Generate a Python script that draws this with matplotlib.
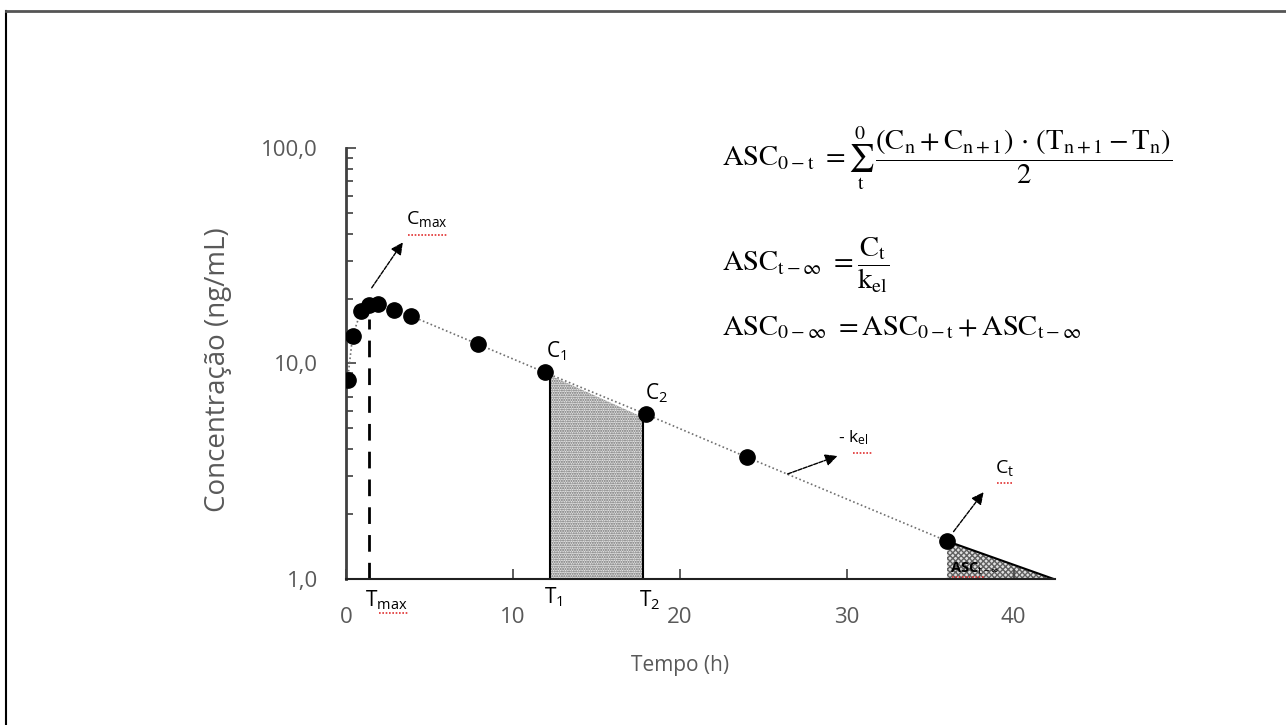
import matplotlib
matplotlib.use("Agg")
import matplotlib.pyplot as plt
import numpy as np

plt.rcParams['font.family'] = ['Open Sans', 'DejaVu Sans']
plt.rcParams['mathtext.fontset'] = 'custom'
plt.rcParams['mathtext.rm'] = 'Open Sans'
plt.rcParams['mathtext.it'] = 'Open Sans'
plt.rcParams['mathtext.sf'] = 'Open Sans'
plt.rcParams['hatch.linewidth'] = 1.0

# dados (tempo em h, concentração em ng/mL)
tempo = [0.1, 0.4, 0.9, 1.4, 1.9, 2.9, 3.9, 7.9, 11.9, 18.0, 24.0, 36.0]
conc = [8.4, 13.4, 17.5, 18.7, 18.9, 17.7, 16.6, 12.3, 9.1, 5.8, 3.68, 1.5]

t_max = 1.4
c_max = 18.9
t1, t2 = 12.2, 17.8
c1, c2 = 9.1, 5.8
t_ult, c_ult = 36.0, 1.5
t_fim = 42.4

x_ticks = [0, 10, 20, 30, 40]
y_ticks = [1, 10, 100]
y_labels = ['1,0', '10,0', '100,0']

fig = plt.figure(figsize=(12.86, 7.25), dpi=100)
ax = fig.add_axes([0.269, 0.2014, 0.551, 0.5945])

# moldura (só esquerda e topo aparecem)
fig.add_artist(plt.Line2D([0.005, 0.005], [0.0, 0.985], color='black', lw=1.5))
fig.add_artist(plt.Line2D([0.005, 1.0], [0.985, 0.985], color='#555555', lw=2))

ax.set_yscale('log')
ax.set_xlim(0, 42.45)
ax.set_ylim(1, 100)

# area entre T1 e T2
tt = np.linspace(t1, t2, 50)
k = (np.log10(c2) - np.log10(c1)) / (t2 - t1)
top = 10 ** (np.log10(c1) + k * (tt - t1)) * 0.97
ax.fill_between(tt, 1, top, facecolor='#e6e6e6', edgecolor='#6a6a6a', hatch='.......', lw=0)
ax.plot([t1, t1], [1, c1 * 0.93], color='black', lw=1.5)
ax.plot([t2, t2], [1, c2 * 0.93], color='black', lw=1.5)

# area t -> infinito
tri_x = [t_ult, t_ult, t_fim]
tri_y = [c_ult, 1, 1]
ax.fill(tri_x, tri_y, facecolor='#e0e0e0', edgecolor='#606060', hatch='xxxxxx', lw=0)
ax.plot([t_ult, t_fim, t_ult], [c_ult, 1, 1], color='black', lw=1.5)

# curva
ax.plot(tempo, conc, linestyle=(0, (1, 1.5)), color='#707070', lw=1.2, zorder=3)
ax.plot(tempo, conc, 'o', color='black', ms=11, zorder=4)

# Tmax
ax.plot([t_max, t_max], [1, c_max * 0.85], color='black', lw=2, dashes=(6, 4))

arrow = dict(arrowstyle='-|>', color='black', lw=1.0, linestyle=(0, (3, 1)), mutation_scale=18)
ax.annotate('', xy=(3.5, 37.4), xytext=(1.45, 21.9), arrowprops=arrow)
ax.annotate('', xy=(29.6, 3.76), xytext=(26.3, 3.04), arrowprops=arrow)
ax.annotate('', xy=(38.3, 2.59), xytext=(36.3, 1.62), arrowprops=arrow)

ax.text(3.6, 42.0, r'C$_{\mathrm{max}}$', fontsize=14, ha='left', va='bottom')
ax.text(29.5, 4.1, r'- k$_{\mathrm{el}}$', fontsize=12.5, ha='left', va='bottom')
ax.text(38.9, 2.94, r'C$_{\mathrm{t}}$', fontsize=14, ha='left', va='bottom')
ax.text(12.6, 11.4, r'C$_{\mathrm{1}}$', fontsize=15, ha='center', va='center')
ax.text(18.6, 7.3, r'C$_{\mathrm{2}}$', fontsize=15, ha='center', va='center')
ax.text(36.2, 1.12, r'ASC$_{\mathrm{t-\infty}}$', fontsize=10.5, ha='left', va='center',
        fontweight='bold', family=['Open Sans', 'DejaVu Sans'])

# sublinhados vermelhos do corretor
red = dict(color='#e03030', lw=1.2, linestyle=(0, (1, 1)))
ax.plot([3.7, 6.1], [39.6, 39.6], **red)
ax.plot([30.4, 31.6], [3.85, 3.85], **red)
ax.plot([39.0, 39.9], [2.78, 2.78], **red)
ax.plot([36.3, 38.3], [1.02, 1.02], **red)

trans = ax.get_xaxis_transform()
ax.text(t1 + 0.2, -0.042, r'T$_{\mathrm{1}}$', transform=trans, fontsize=15, ha='center', va='center')
ax.text(t2 + 0.4, -0.049, r'T$_{\mathrm{2}}$', transform=trans, fontsize=15, ha='center', va='center')
ax.text(2.4, -0.05, r'T$_{\mathrm{max}}$', transform=trans, fontsize=15, ha='center', va='center')
ax.plot([2.0, 3.8], [-0.078, -0.078], transform=trans, clip_on=False, **red)

# eixos
for s in ['top', 'right']:
    ax.spines[s].set_visible(False)
ax.spines['left'].set_color('#404040')
ax.spines['left'].set_linewidth(2)
ax.spines['bottom'].set_color('#202020')
ax.spines['bottom'].set_linewidth(1.5)

ax.set_xticks(x_ticks)
ax.set_yticks(y_ticks)
ax.set_yticklabels(y_labels)
ax.tick_params(axis='both', which='major', direction='in', length=7, width=1.2,
               colors='#404040', labelcolor='#595959', labelsize=16)
ax.tick_params(axis='y', which='minor', direction='in', length=5, width=1.2, colors='#404040')
ax.xaxis.set_tick_params(pad=20)
ax.yaxis.set_tick_params(pad=20)

ax.set_xlabel('Tempo (h)', fontsize=15, color='#595959')
ax.xaxis.set_label_coords(0.472, -0.176)
ax.set_ylabel('Concentração (ng/mL)', fontsize=20, color='#595959')
ax.yaxis.set_label_coords(-0.161, 0.485)

# formulas
eq1 = (r'$\mathrm{ASC_{0-t}}\ = \sum_{\mathrm{t}}^{0}\,\dfrac{\left(\mathrm{C_n} + \mathrm{C_{n+1}}\right)'
       r'\,\cdot\,\left(\mathrm{T_{n+1}} - \mathrm{T_n}\right)}{2}$')
eq2 = r'$\mathrm{ASC_{t-\infty}}\ = \dfrac{\mathrm{C_t}}{\mathrm{k_{el}}}$'
eq3 = r'$\mathrm{ASC_{0-\infty}}\ = \mathrm{ASC_{0-t}} + \mathrm{ASC_{t-\infty}}$'
for yp, eq in [(158, eq1), (265, eq2), (328, eq3)]:
    fig.text(722 / 1286, 1 - yp / 725, eq, fontsize=20.5, ha='left', va='center',
             math_fontfamily='stix')

fig.savefig('out.png', dpi=100)
